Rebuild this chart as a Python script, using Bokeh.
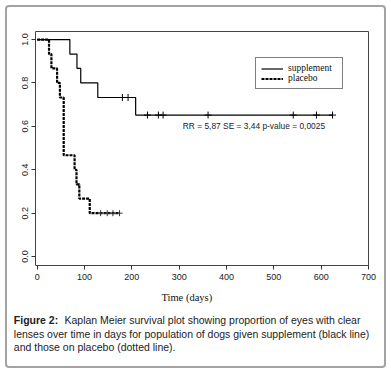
from bokeh.plotting import figure
from bokeh.layouts import column
from bokeh.models import Range1d, FixedTicker, PrintfTickFormatter, Label, Legend, LegendItem
from bokeh.embed import file_html
from bokeh.resources import INLINE

# ---- data ----
sup_time = [0, 69, 84, 92, 128, 208, 624]
sup_surv = [1.0, 0.933, 0.867, 0.800, 0.733, 0.652, 0.652]
sup_cens_time = [180, 192, 233, 256, 266, 361, 541, 590, 624]
sup_cens_surv = [0.733, 0.733, 0.652, 0.652, 0.652, 0.652, 0.652, 0.652, 0.652]

pla_time = [0, 25, 30, 42, 48, 56, 79, 83, 89, 111, 174]
pla_surv = [1.0, 0.933, 0.867, 0.800, 0.733, 0.467, 0.400, 0.333, 0.267, 0.200, 0.200]
pla_cens_time = [134, 148, 160, 174]
pla_cens_surv = [0.2, 0.2, 0.2, 0.2]

x_ticks = [0, 100, 200, 300, 400, 500, 600, 700]
y_ticks = [0.0, 0.2, 0.4, 0.6, 0.8, 1.0]

stats_text = "RR = 5,87  SE = 3,44  p-value = 0,0025"
x_label = "Time (days)"
cap_bold = "Figure 2:"
cap_lines = [
    "Kaplan Meier survival plot showing proportion of eyes with clear",
    "lenses over time in days for population of dogs given supplement (black line)",
    "and those on placebo (dotted line).",
]

W = 391
HA, HB = 288, 85

# ---------- chart ----------
p = figure(width=W, height=HA, output_backend="svg", toolbar_location=None,
           x_range=Range1d(-3.6, 700), y_range=Range1d(-0.041, 1.037),
           min_border_left=35, min_border_right=23, min_border_top=31, min_border_bottom=HA - 265)
p.frame_align = False
p.grid.visible = False
p.background_fill_color = "white"
p.border_fill_alpha = 0
p.outline_line_color = "#444"
p.outline_line_width = 1

for ax in (p.xaxis[0], p.yaxis[0]):
    ax.axis_line_color = None
    ax.major_tick_out = 4
    ax.major_tick_in = 0
    ax.minor_tick_line_color = None
    ax.major_tick_line_color = "#333"
    ax.major_label_text_font = "Liberation Sans"
    ax.major_label_text_font_size = "9px"
    ax.major_label_text_color = "#222"

p.xaxis.ticker = FixedTicker(ticks=x_ticks)
p.xaxis.major_label_standoff = 4
p.yaxis.ticker = FixedTicker(ticks=y_ticks)
p.yaxis.formatter = PrintfTickFormatter(format="%.1f")
p.yaxis.major_label_orientation = "vertical"
p.yaxis.major_label_standoff = 3

r_sup = p.step(sup_time, sup_surv, mode="after", line_color="black", line_width=1.2)
r_pla = p.step(pla_time, pla_surv, mode="after", line_color="black", line_width=2.2, line_dash="3 1")
p.scatter(sup_cens_time, sup_cens_surv, marker="cross", size=7, line_color="black", line_width=1)
p.scatter(pla_cens_time, pla_cens_surv, marker="cross", size=6, line_color="#333", line_width=1)

legend = Legend(items=[LegendItem(label="supplement", renderers=[r_sup]),
                       LegendItem(label="placebo", renderers=[r_pla])],
                location=(220, 176))
legend.label_text_font = "Liberation Serif"
legend.label_text_font_size = "9.5px"
legend.label_text_color = "#111"
legend.border_line_color = "black"
legend.border_line_width = 1
legend.background_fill_alpha = 1
legend.glyph_width = 22
legend.glyph_height = 9
legend.label_height = 9
legend.label_width = 49
legend.spacing = 0
legend.padding = 5
legend.margin = 0
legend.label_standoff = 5
p.add_layout(legend, "center")

# position relative to the plot frame (left, bottom)
p.add_layout(Label(x=147.3, y=139.7, x_units="screen", y_units="screen", text=stats_text,
                   text_font="Liberation Sans", text_font_size="8.4px", text_color="#222",
                   text_baseline="middle"))

# ---------- caption strip ----------
q = figure(width=W, height=HB, output_backend="svg", toolbar_location=None,
           x_range=Range1d(0, 1), y_range=Range1d(0, 1),
           x_axis_type=None, y_axis_type=None,
           min_border=0, min_border_left=0, min_border_right=0, min_border_top=0, min_border_bottom=0)
q.frame_align = False
q.grid.visible = False
q.outline_line_color = None
q.background_fill_alpha = 0
q.border_fill_alpha = 0

q.add_layout(Label(x=186.3, y=HB - 8.7, x_units="screen", y_units="screen", text=x_label,
                   text_font="Liberation Serif", text_font_size="10.5px", text_color="#111",
                   text_baseline="middle", text_align="center"))
cap_y = [54, 40, 27]
q.add_layout(Label(x=13.3, y=cap_y[0], x_units="screen", y_units="screen", text=cap_bold,
                   text_font="Liberation Sans", text_font_size="10.5px", text_font_style="bold",
                   text_color="#222", text_baseline="middle"))
cap_x = [64, 13.3, 13.3]
for i, line in enumerate(cap_lines):
    q.add_layout(Label(x=cap_x[i], y=cap_y[i], x_units="screen", y_units="screen", text=line,
                       text_font="Liberation Sans", text_font_size="10.5px",
                       text_color="#222", text_baseline="middle"))

layout = column(p, q, spacing=0,
                styles={"outline": "2px solid #a3a3a3", "outline-offset": "-7px",
                        "border-radius": "9px", "background-color": "white"})

open("out.html", "w").write(file_html(layout, INLINE))
